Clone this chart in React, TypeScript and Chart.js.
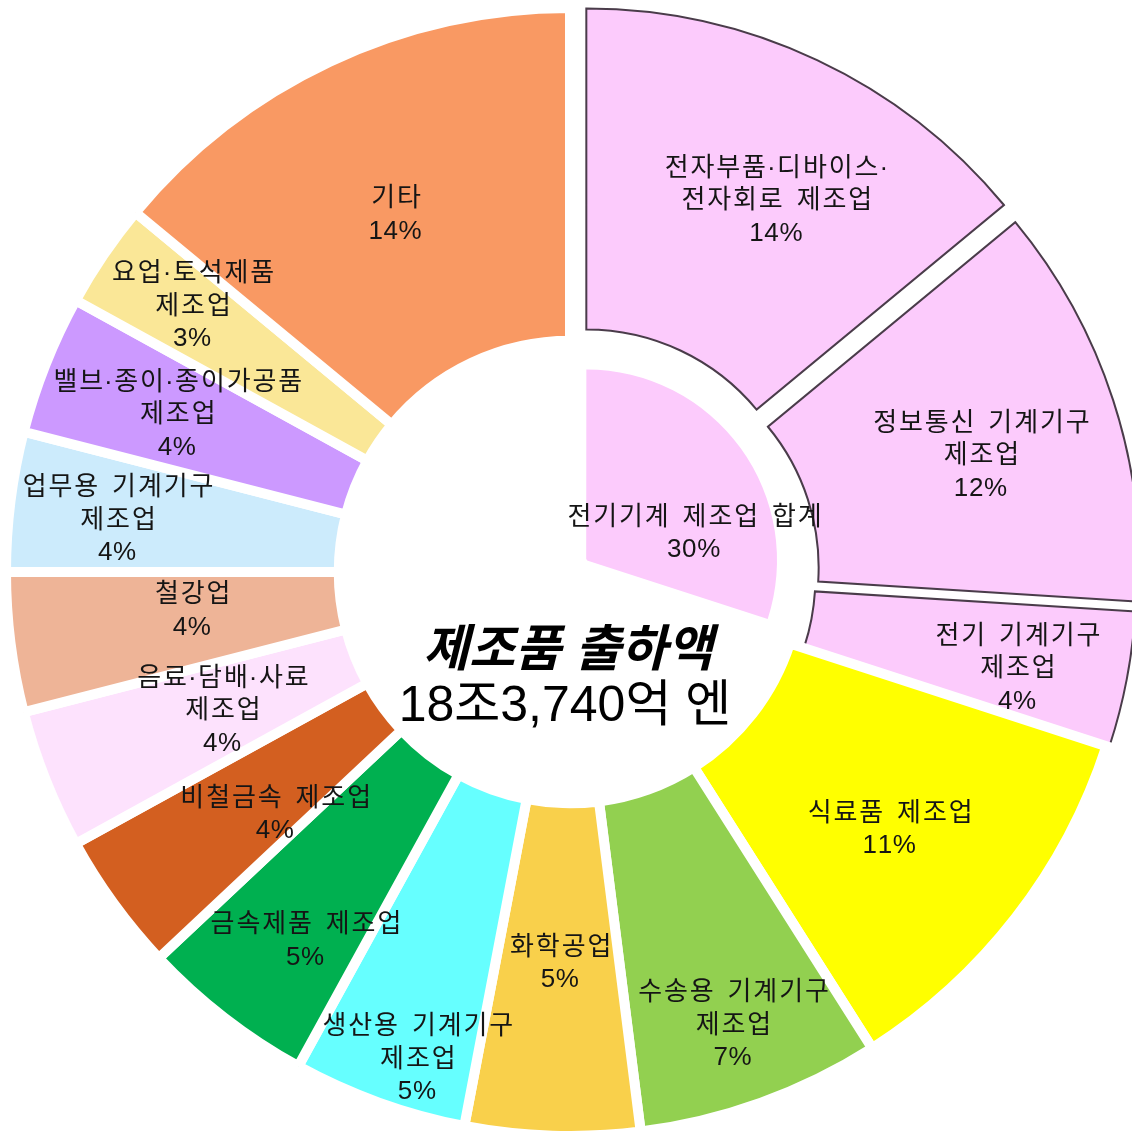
import React, { useEffect, useRef } from "react";
import { Chart, registerables } from "chart.js";

Chart.register(...registerables);

// ---- data ----
const categories = [
  "전자부품·디바이스·\n전자회로 제조업",
  "정보통신 기계기구\n제조업",
  "전기 기계기구\n제조업",
  "식료품 제조업",
  "수송용 기계기구\n제조업",
  "화학공업",
  "생산용 기계기구\n제조업",
  "금속제품 제조업",
  "비철금속 제조업",
  "음료·담배·사료\n제조업",
  "철강업",
  "업무용 기계기구\n제조업",
  "밸브·종이·종이가공품\n제조업",
  "요업·토석제품\n제조업",
  "기타",
];
const shares = [14, 12, 4, 11, 7, 5, 5, 5, 4, 4, 4, 4, 4, 3, 14];
const groupLabel = "전기기계 제조업 합계";
const groupShare = 30;
const titleLine = "제조품 출하액";
const totalLine = "18조3,740억 엔";

// ---- styles / layout ----
const PINK = "#FCCBFC";
const colors = [
  PINK, PINK, PINK,
  "#FFFF00", "#92D050", "#F9D04B", "#66FFFF", "#00B050", "#D35F20",
  "#FDE2FD", "#EEB497", "#CCEBFC", "#CC99FF", "#FAE797", "#F99963",
];
const exploded = [true, true, true, false, false, false, false, false, false, false, false, false, false, false, false];
const explodePx = [27, 28, 25];
const explodeDirShift = [12, 9, 2];
const labelRadius = [426, 427, 457, 409, 480, 390, 509, 453, 381, 374, 380, 456, 424, 463, 399];
const labelAngleShift = [3.7, 2, 1.2, 0.9, 0, -0.3, -2.3, -2, -3.2, 0.1, 1.6, -0.5, 0.4, 1.1, -0.8];
const INNER_EXPLODE_PX = 21;
const PINK_OUTER = 542;
const PINK_INNER = 221;
const LINE_H = 32.5;
const LABEL_DY = 2;
const HANGUL_PITCH = 25.8;
const SPACE_PITCH = 12;
const CHAR_GAP = 0.6;
const DEG = Math.PI / 180;

function offsetFor(px: number, share: number) {
  const circ = (share / 100) * 2 * Math.PI;
  const fix = 1 - Math.sin(Math.min(Math.PI, circ));
  return (4 * px) / (1 + fix);
}

function drawSpaced(ctx: CanvasRenderingContext2D, text: string, cx: number, y: number) {
  const chars = Array.from(text);
  const widths = chars.map((ch) => ctx.measureText(ch).width);
  const isH = chars.map((ch) => /[\uAC00-\uD7A3]/.test(ch));
  const adv = chars.map((ch, i) =>
    isH[i] ? HANGUL_PITCH : ch === " " ? SPACE_PITCH : widths[i] + CHAR_GAP
  );
  const lastTrim = isH[chars.length - 1] ? Math.max(0, HANGUL_PITCH - widths[chars.length - 1]) : CHAR_GAP;
  const total = adv.reduce((a, b) => a + b, 0) - lastTrim;
  let x = cx - total / 2;
  ctx.textAlign = "left";
  chars.forEach((ch, i) => {
    if (ch !== " ") {
      const pad = isH[i] ? Math.max(0, (adv[i] - widths[i]) / 2) : 0;
      ctx.fillText(ch, x + pad, y);
    }
    x += adv[i];
  });
}

const labelPlugin = {
  id: "sliceLabels",
  afterDatasetUpdate(chart: any, args: any) {
    if (args.index !== 0) return;
    args.meta.data.forEach((el: any, i: number) => {
      if (exploded[i]) {
        el.outerRadius = PINK_OUTER;
        el.innerRadius = PINK_INNER;
        const mid = (el.startAngle + el.endAngle) / 2 + explodeDirShift[i] * DEG;
        el.x += Math.cos(mid) * explodePx[i];
        el.y += Math.sin(mid) * explodePx[i];
      }
    });
  },
  afterDatasetsDraw(chart: any) {
    const ctx = chart.ctx as CanvasRenderingContext2D;
    const meta = chart.getDatasetMeta(0);
    const area = chart.chartArea;
    const cx0 = (area.left + area.right) / 2;
    const cy0 = (area.top + area.bottom) / 2;
    ctx.save();
    ctx.fillStyle = "#151515";
    ctx.textBaseline = "middle";
    ctx.font = '26px "Liberation Sans", "Noto Sans CJK KR", sans-serif';
    meta.data.forEach((arc: any, i: number) => {
      const { startAngle, endAngle } = arc;
      const mid = (startAngle + endAngle) / 2 + labelAngleShift[i] * DEG;
      const r = labelRadius[i];
      const px = cx0 + Math.cos(mid) * r;
      const py = cy0 + Math.sin(mid) * r + LABEL_DY;
      const lines = [...categories[i].split("\n"), `${shares[i]}%`];
      lines.forEach((ln, k) => drawSpaced(ctx, ln, px, py + (k - (lines.length - 1) / 2) * LINE_H));
    });
    // inner group label
    const inner = chart.getDatasetMeta(1).data[0] as any;
    if (inner) {
      const mid = (inner.startAngle + inner.endAngle) / 2 + 18 * DEG;
      const px = cx0 + Math.cos(mid) * 130;
      const py = cy0 + Math.sin(mid) * 130 + LABEL_DY;
      drawSpaced(ctx, groupLabel, px, py - LINE_H / 2);
      drawSpaced(ctx, `${groupShare}%`, px, py + LINE_H / 2);
    }
    // center title
    ctx.textAlign = "center";
    ctx.fillStyle = "#000";
    ctx.font = 'italic bold 50px "Liberation Sans", "Noto Sans CJK KR", sans-serif';
    ctx.fillText(titleLine, cx0 - 2, cy0 + 80);
    ctx.font = '50px "Liberation Sans", "Noto Sans CJK KR", sans-serif';
    ctx.fillText(totalLine, cx0 - 5, cy0 + 135);
    ctx.restore();
  },
};

export default function App() {
  const ref = useRef<HTMLCanvasElement | null>(null);
  useEffect(() => {
    if (!ref.current) return;
    const chart = new Chart(ref.current, {
      type: "doughnut",
      data: {
        labels: categories,
        datasets: [
          {
            data: shares,
            backgroundColor: colors,
            borderColor: exploded.map((e) => (e ? "#4a3c4a" : "#ffffff")),
            borderWidth: exploded.map((e) => (e ? 2 : 10)),
            borderJoinStyle: "miter",
            radius: 564,
            cutout: 0,
            weight: 0.59,
            clip: false,
          } as any,
          {
            data: [groupShare, 100 - groupShare],
            backgroundColor: [PINK, "rgba(0,0,0,0)"],
            borderWidth: 0,
            offset: [offsetFor(INNER_EXPLODE_PX, groupShare), 0],
            radius: 463,
            cutout: 0,
            weight: 0.41,
            clip: false,
          } as any,
        ],
      },
      options: {
        responsive: false,
        animation: false,
        events: [],
        layout: { padding: { left: 8, top: 13, right: 0, bottom: 0 } },
        plugins: { legend: { display: false }, tooltip: { enabled: false } },
      } as any,
      plugins: [labelPlugin],
    });
    return () => chart.destroy();
  }, []);
  return (
    <div style={{ position: "fixed", left: 0, top: 0, width: 1132, height: 1131, background: "#fff" }}>
      <canvas ref={ref} width={1132} height={1131} style={{ display: "block" }} />
    </div>
  );
}
